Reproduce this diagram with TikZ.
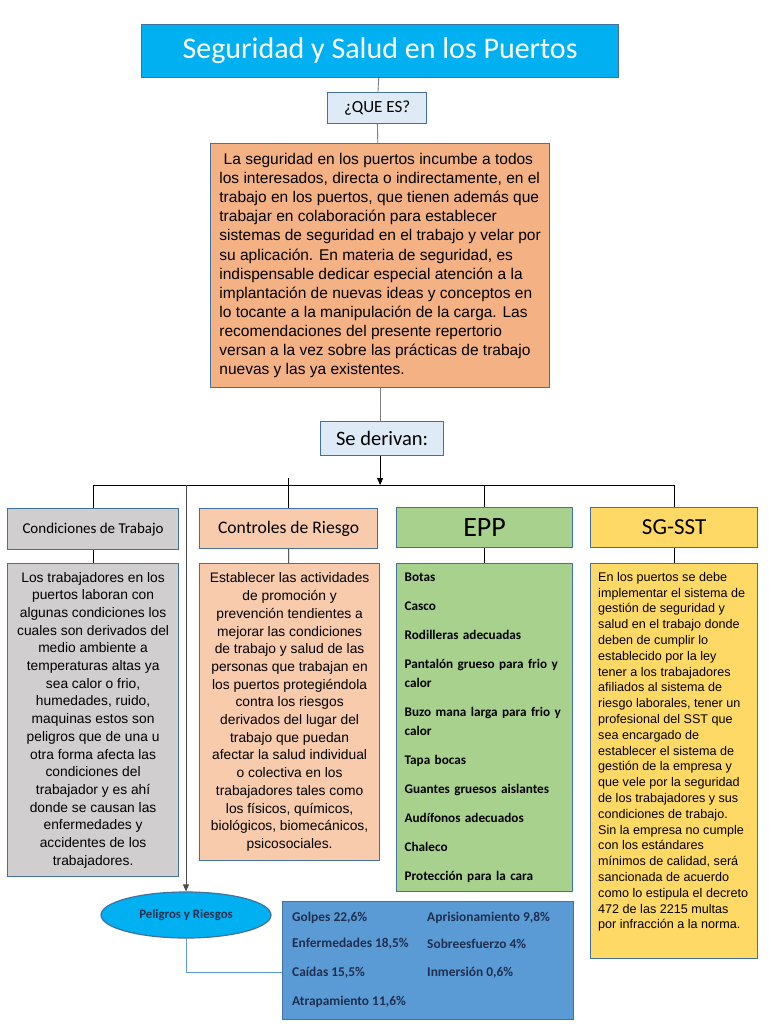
\documentclass[tikz,border=0pt]{standalone}
\usepackage{fontspec}
\setmainfont{Liberation Sans}
\newfontfamily\calibri{Carlito}
\usetikzlibrary{shapes.geometric,arrows.meta}
\definecolor{borde}{HTML}{41719C}
\definecolor{cian}{HTML}{00B0F0}
\definecolor{celeste}{HTML}{DEEBF7}
\definecolor{salmon}{HTML}{F4B183}
\definecolor{gris}{HTML}{D0CECE}
\definecolor{durazno}{HTML}{F8CBAD}
\definecolor{verde}{HTML}{A9D18E}
\definecolor{amarillo}{HTML}{FFD966}
\definecolor{azul}{HTML}{5B9BD5}
\definecolor{marino}{HTML}{1F2F4F}
\definecolor{linea}{HTML}{7F7F7F}
\tikzset{
  caja/.style={draw=borde, line width=1.2pt, inner sep=0pt, anchor=north west},
  texto/.style={font=\fontsize{13.8}{17.7}\selectfont, align=center},
  gris line/.style={draw=linea, line width=0.9pt},
  negro line/.style={draw=black, line width=0.8pt},
}
\begin{document}
\begin{tikzpicture}[x=1pt,y=-1pt]
\useasboundingbox[fill=white] (0,0) rectangle (768,1024);
\node[caja, fill=cian, minimum width=477pt, minimum height=53pt, text=white, font=\calibri\fontsize{30}{34}\selectfont] (titulo) at (141,24) {Seguridad y Salud en los Puertos};
\node[caja, fill=celeste, minimum width=99pt, minimum height=31pt, font=\calibri\fontsize{17}{20}\selectfont] (quees) at (327,92) {¿QUE ES?};
\node[caja, fill=salmon, minimum width=339pt, minimum height=244pt, align=left, font=\fontsize{15.5}{19.1}\selectfont] (intro) at (210,143) {\ La seguridad en los puertos incumbe a todos\\
los interesados, directa o indirectamente, en el\\
trabajo en los puertos, que tienen además que\\
trabajar en colaboración para establecer\\
sistemas de seguridad en el trabajo y velar por\\
su aplicación. En materia de seguridad, es\\
indispensable dedicar especial atención a la\\
implantación de nuevas ideas y conceptos en\\
lo tocante a la manipulación de la carga. Las\\
recomendaciones del presente repertorio\\
versan a la vez sobre las prácticas de trabajo\\
nuevas y las ya existentes.};
\node[caja, fill=celeste, minimum width=123pt, minimum height=34pt, font=\calibri\fontsize{20.5}{24}\selectfont] (derivan) at (320,421) {Se derivan:};
\coordinate (bus) at (380,485);

\node[caja, fill=gris, minimum width=171pt, minimum height=41pt, font=\calibri\fontsize{15}{18}\selectfont] (condH) at (7,508) {Condiciones de Trabajo};
\node[caja, fill=durazno, minimum width=178pt, minimum height=40pt, font=\calibri\fontsize{17.6}{20}\selectfont] (contH) at (199,508) {Controles de Riesgo};
\node[caja, fill=verde, minimum width=176pt, minimum height=40pt, font=\calibri\fontsize{28}{32}\selectfont] (eppH) at (396,507) {EPP};
\node[caja, fill=amarillo, minimum width=167pt, minimum height=40pt, font=\calibri\fontsize{23}{26}\selectfont] (sgH) at (590,507) {SG-SST};

\node[caja, fill=gris, minimum width=171pt, minimum height=313pt, texto] (condT) at (7,563) {Los trabajadores en los\\
puertos laboran con\\
algunas condiciones los\\
cuales son derivados del\\
medio ambiente a\\
temperaturas altas ya\\
sea calor o frio,\\
humedades, ruido,\\
maquinas estos son\\
peligros que de una u\\
otra forma afecta las\\
condiciones del\\
trabajador y es ahí\\
donde se causan las\\
enfermedades y\\
accidentes de los\\
trabajadores.};
\node[caja, fill=durazno, minimum width=180pt, minimum height=297pt, texto] (contT) at (199,563) {Establecer las actividades\\
de promoción y\\
prevención tendientes a\\
mejorar las condiciones\\
de trabajo y salud de las\\
personas que trabajan en\\
los puertos protegiéndola\\
contra los riesgos\\
derivados del lugar del\\
trabajo que puedan\\
afectar la salud individual\\
o colectiva en los\\
trabajadores tales como\\
los físicos, químicos,\\
biológicos, biomecánicos,\\
psicosociales.};
\node[caja, fill=verde, minimum width=176pt, minimum height=328pt, align=left, text width=160pt, inner xsep=8pt, font=\calibri\bfseries\fontsize{13.2}{19}\selectfont] (eppT) at (396,563) {Botas\\[10pt]
Casco\\[10pt]
Rodilleras adecuadas\\[10pt]
Pantalón grueso para frio y\\
calor\\[10pt]
Buzo mana larga para frio y\\
calor\\[10pt]
Tapa bocas\\[10pt]
Guantes gruesos aislantes\\[10pt]
Audífonos adecuados\\[10pt]
Chaleco\\[10pt]
Protección para la cara};
\node[caja, fill=amarillo, minimum width=167pt, minimum height=395pt] (sgT) at (590,563) {};
\node[anchor=north west, inner sep=0pt, align=left, font=\fontsize{12.6}{15.8}\selectfont] (sgTexto) at ([xshift=8pt,yshift=-9pt]sgT.north west) {En los puertos se debe\\
implementar el sistema de\\
gestión de seguridad y\\
salud en el trabajo donde\\
deben de cumplir lo\\
establecido por la ley\\
tener a los trabajadores\\
afiliados al sistema de\\
riesgo laborales, tener un\\
profesional del SST que\\
sea encargado de\\
establecer el sistema de\\
gestión de la empresa y\\
que vele por la seguridad\\
de los trabajadores y sus\\
condiciones de trabajo.\\
Sin la empresa no cumple\\
con los estándares\\
mínimos de calidad, será\\
sancionada de acuerdo\\
como lo estipula el decreto\\
472 de las 2215 multas\\
por infracción a la norma.};

\node[draw=borde, line width=1.2pt, fill=cian, ellipse, minimum width=170pt, minimum height=46pt, text=marino, font=\calibri\bfseries\fontsize{12.8}{15}\selectfont] (peligros) at (186,915) {Peligros y Riesgos};
\node[caja, fill=azul, minimum width=291pt, minimum height=118pt] (datos) at (282,901) {};
\foreach \px/\py/\t in {292/918/Golpes 22{,}6\%, 292/944/Enfermedades 18{,}5\%, 292/973/Caídas 15{,}5\%, 292/1002/Atrapamiento 11{,}6\%,
  427/918/Aprisionamiento 9{,}8\%, 427/944/Sobreesfuerzo 4\%, 427/973/Inmersión 0{,}6\%}
  \node[anchor=west, inner sep=0pt, text=marino, font=\calibri\bfseries\fontsize{13.4}{15}\selectfont] at (\px,\py) {\t};

\draw[gris line] (titulo) -- (quees);
\draw[gris line] (quees) -- (intro);
\draw[gris line] (intro.south) -- (intro.south |- derivan.north);
\draw[negro line, -{Triangle[length=7pt,width=6pt]}] (intro.south |- derivan.south) -- (intro.south |- bus);
\draw[negro line] (condH.north |- bus) -- (sgH.north |- bus);
\draw[negro line] (condH.north |- bus) -- (condH.north);
\draw[negro line] ([yshift=7pt]contH.north |- bus) -- (contH.north);
\draw[negro line] (eppH.north |- bus) -- (eppH.north);
\draw[negro line] (sgH.north |- bus) -- (sgH.north);
\draw[negro line] (condH) -- (condT);
\draw[negro line] (contH) -- (contT);
\draw[negro line] (eppH) -- (eppT);
\draw[negro line] (sgH) -- (sgT);
\draw[draw=black!70, line width=0.8pt, -{Triangle[length=7pt,width=6pt]}] (peligros.north |- bus) -- (peligros.north);
\draw[draw=azul, line width=1pt] (peligros.south) |- ([yshift=-12pt]datos.west);
\end{tikzpicture}
\end{document}
